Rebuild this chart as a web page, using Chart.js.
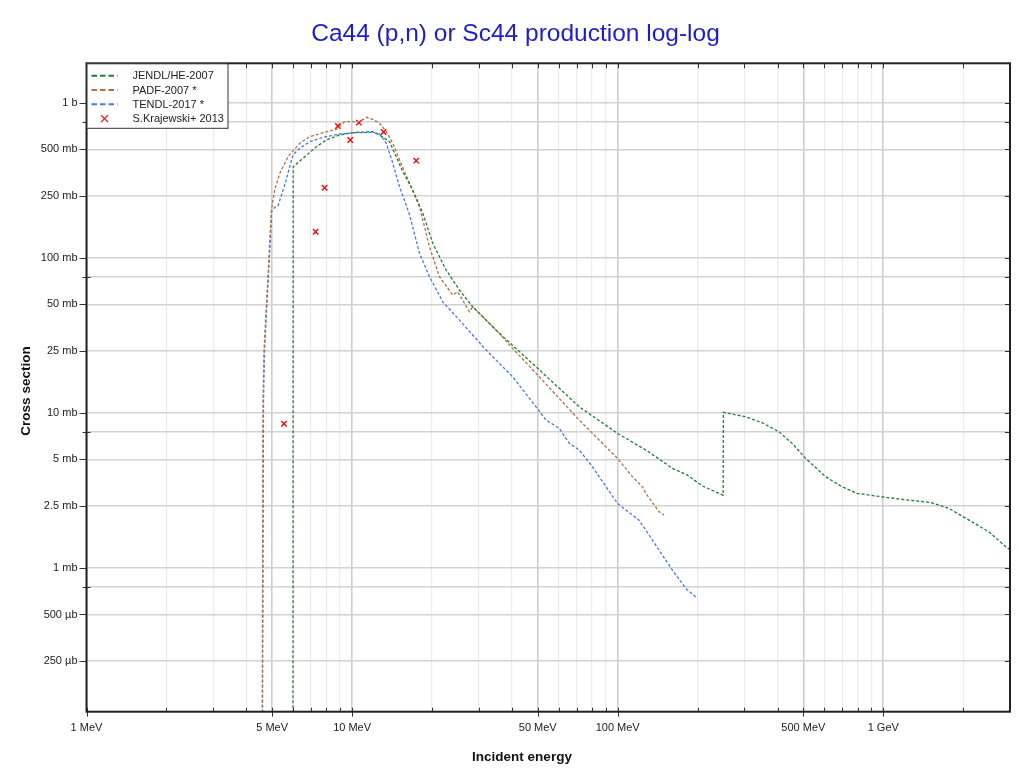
<!DOCTYPE html>
<html><head><meta charset="utf-8">
<script src="https://cdn.jsdelivr.net/npm/chart.js@4.4.0/dist/chart.umd.min.js"></script>
<style>html,body{margin:0;padding:0;background:#fff;}#wrap{width:1020px;height:773px;}</style>
</head><body>
<div id="wrap"><canvas id="c" width="1020" height="773"></canvas></div>
<script>
const chartTitle = 'Ca44 (p,n) or Sc44 production log-log';
const xTitle = 'Incident energy';
const yTitle = 'Cross section';
const seriesNames = ['JENDL/HE-2007', 'PADF-2007 *', 'TENDL-2017 *', 'S.Krajewski+ 2013'];
const seriesColors = ['#1f7f35', '#b07040', '#4678e6', '#ff0000'];

// floor value (zero cross section drawn on the axis bottom), mb
const floorXS = 0.118;

// energies in MeV, cross sections in mb
const jendlE  = [1, 5.99, 6.0, 6.53, 7.34, 8.0, 8.97, 10.37, 11.97, 12.69, 13.84, 14.66, 15.52, 16.93, 18.46, 20.13, 22.6, 25.36, 28.46, 35.86, 49.27, 71.66, 99.8, 127.6, 143.2, 160.7, 183, 208.4, 249.5, 250, 303.4, 350.3, 404.7, 454.1, 510, 606.3, 700, 797, 1019, 1247, 1504, 1763, 2157, 2493, 2920, 3000];
const jendlXS = [floorXS, floorXS, 386.5, 437.8, 520, 574.7, 618.9, 644, 650, 618.9, 560, 448, 358.7, 273.3, 193.4, 123.9, 83.3, 61.9, 48.3, 32.5, 19.8, 10.93, 7.36, 5.75, 5.03, 4.38, 3.96, 3.37, 2.94, 10.06, 9.42, 8.62, 7.54, 6.35, 5.08, 3.87, 3.33, 3.02, 2.85, 2.73, 2.64, 2.42, 1.98, 1.71, 1.35, 1.31];

const padfE  = [1, 4.59, 4.62, 4.66, 4.76, 4.83, 4.90, 4.97, 5.11, 5.34, 5.74, 6.35, 6.92, 7.77, 8.72, 9.37, 9.93, 10.67, 11.31, 11.97, 12.69, 13.45, 14.24, 15.09, 16.45, 17.94, 19.56, 21.33, 23.93, 24.99, 27.65, 28.46, 35.86, 40.22, 49.27, 71.66, 99.8, 113.6, 124, 127.6, 143.2, 149.5];
const padfXS = [floorXS, floorXS, 12.1, 25.4, 50.8, 79.3, 130.1, 203, 273, 350, 448, 547, 603, 640, 673, 754, 754, 754, 805, 781, 736, 650, 547, 427, 302, 213.3, 117.8, 75.4, 57.5, 60.3, 44.8, 48.3, 32.5, 26.0, 17.96, 8.97, 5.08, 3.87, 3.33, 3.02, 2.30, 2.19];

const tendlE  = [1, 4.6, 4.64, 4.68, 4.78, 4.85, 4.92, 4.98, 5.14, 5.26, 5.574, 5.99, 6.35, 6.92, 7.77, 8.97, 10.07, 11.97, 12.69, 13.45, 14.24, 15.09, 16.45, 17.94, 19.56, 21.95, 25.36, 31.96, 40.22, 49.27, 53.72, 60.27, 65.73, 71.66, 80.4, 99.8, 120.4, 143.2, 160.7, 180.5, 199.5];
const tendlXS = [floorXS, floorXS, 12, 25, 51, 80, 130, 200, 213, 216, 294, 460, 508, 560, 598, 628, 640, 643, 628, 547, 406, 287, 190, 106.8, 75.4, 52, 39.6, 25.4, 17.07, 10.93, 8.97, 7.93, 6.35, 5.75, 4.48, 2.60, 2.03, 1.30, 0.966, 0.736, 0.635];

const expE  = [5.54, 7.29, 7.88, 8.84, 9.84, 10.61, 13.14, 17.43];
const expXS = [8.49, 147.2, 282.9, 707.5, 574.7, 743, 647, 422.6];

const xMin = 1, xMax = 3000;
const yMin = floorXS, yMax = 1795;
const xTickValues = [1,2,3,4,5,6,7,8,9,10,20,30,40,50,60,70,80,90,100,200,300,400,500,600,700,800,900,1000,2000,3000];
const xTickLabels = {1:'1 MeV', 5:'5 MeV', 10:'10 MeV', 50:'50 MeV', 100:'100 MeV', 500:'500 MeV', 1000:'1 GeV'};
const yTickValues = [0.25,0.5,0.75,1,2.5,5,7.5,10,25,50,75,100,250,500,750,1000];
const yTickLabels = {0.25:'250 µb', 0.5:'500 µb', 1:'1 mb', 2.5:'2.5 mb', 5:'5 mb', 10:'10 mb', 25:'25 mb', 50:'50 mb', 100:'100 mb', 250:'250 mb', 500:'500 mb', 1000:'1 b'};

const FONT = '"Liberation Sans", Arial, Helvetica, sans-serif';
Chart.defaults.font.family = FONT;

const pts = (xs, ys) => xs.map((v, i) => ({x: v, y: ys[i]}));
const lineSet = (i, xs, ys) => ({
  label: seriesNames[i], data: pts(xs, ys), showLine: true,
  borderColor: seriesColors[i], backgroundColor: seriesColors[i],
  borderWidth: 1.3, borderDash: [3, 2], pointRadius: 0, tension: 0, fill: false
});

const decor = {
  id: 'decor',
  afterDraw(chart) {
    const {ctx, chartArea: a, scales: {x, y}} = chart;
    ctx.save();
    ctx.strokeStyle = '#333'; ctx.lineWidth = 1;
    ctx.beginPath();
    x.ticks.forEach(t => {
      const px = Math.round(x.getPixelForValue(t.value)) + 0.5;
      const lab = (t.value in xTickLabels);
      ctx.moveTo(px, a.bottom - 4); ctx.lineTo(px, a.bottom + (lab ? 5 : 0));
      ctx.moveTo(px, a.top); ctx.lineTo(px, a.top + 5);
    });
    y.ticks.forEach(t => {
      const py = Math.round(y.getPixelForValue(t.value)) + 0.5;
      const lab = (t.value in yTickLabels);
      ctx.moveTo(a.left - (lab ? 7 : 4), py); ctx.lineTo(a.left + (lab ? 0 : 4), py);
      ctx.moveTo(a.right, py); ctx.lineTo(a.right - 5, py);
    });
    ctx.stroke();
    // frame
    ctx.lineWidth = 2; ctx.strokeStyle = '#222';
    ctx.strokeRect(a.left, a.top, a.right - a.left, a.bottom - a.top);
    // axis titles
    ctx.fillStyle = '#111';
    ctx.font = 'bold 13.5px ' + FONT;
    ctx.textAlign = 'center'; ctx.textBaseline = 'middle';
    ctx.fillText(xTitle, 522, 757);
    ctx.translate(26, 391); ctx.rotate(-Math.PI / 2);
    ctx.fillText(yTitle, 0, 0);
    ctx.setTransform(1, 0, 0, 1, 0, 0);
    // legend
    const lx = a.left + 0.5, ly = a.top + 0.5, lw = 141, lh = 64.5;
    ctx.fillStyle = '#fff'; ctx.fillRect(lx, ly, lw, lh);
    ctx.lineWidth = 1; ctx.strokeStyle = '#333'; ctx.strokeRect(lx, ly, lw, lh);
    ctx.font = '11px ' + FONT; ctx.textAlign = 'left';
    chart.data.datasets.forEach((ds, i) => {
      const ry = a.top + 12.4 + i * 14.3;
      if (ds.showLine) {
        ctx.save();
        ctx.strokeStyle = ds.borderColor; ctx.lineWidth = 2; ctx.setLineDash([5.5, 3]);
        ctx.beginPath(); ctx.moveTo(a.left + 5, ry); ctx.lineTo(a.left + 31, ry); ctx.stroke();
        ctx.restore();
      } else {
        ctx.save();
        ctx.strokeStyle = ds.borderColor; ctx.lineWidth = 1.2;
        const cx = a.left + 18, s = 3.5;
        ctx.beginPath(); ctx.moveTo(cx - s, ry - s); ctx.lineTo(cx + s, ry + s);
        ctx.moveTo(cx - s, ry + s); ctx.lineTo(cx + s, ry - s); ctx.stroke();
        ctx.restore();
      }
      ctx.fillStyle = '#222';
      ctx.fillText(ds.label, a.left + 46, ry + 0.5);
    });
    ctx.restore();
  }
};

const majorX = new Set([1, 5, 10, 50, 100, 500, 1000]);

new Chart(document.getElementById('c'), {
  type: 'scatter',
  data: {
    datasets: [
      lineSet(0, jendlE, jendlXS),
      lineSet(1, padfE, padfXS),
      lineSet(2, tendlE, tendlXS),
      {
        label: seriesNames[3], data: pts(expE, expXS), showLine: false,
        pointStyle: 'crossRot', pointRadius: 3.8, pointBorderWidth: 1.4,
        borderColor: seriesColors[3], backgroundColor: seriesColors[3]
      }
    ]
  },
  options: {
    responsive: false, animation: false, devicePixelRatio: 1,
    layout: {padding: {left: 21, right: 10, top: 0, bottom: 0}},
    plugins: {
      legend: {display: false},
      tooltip: {enabled: false},
      title: {
        display: true, text: chartTitle, color: '#1c1cd0',
        font: {size: 24.5, weight: 'normal', family: FONT},
        padding: {top: 19.6, bottom: 14.3}
      }
    },
    scales: {
      x: {
        type: 'logarithmic', min: xMin, max: xMax,
        afterBuildTicks: s => { s.ticks = xTickValues.map(v => ({value: v})); },
        afterFit: s => { s.height = 61.3; },
        ticks: {
          autoSkip: false, maxRotation: 0, minRotation: 0, padding: 10,
          color: '#222', font: {size: 11},
          callback: v => xTickLabels[v] || ''
        },
        grid: {
          drawTicks: false,
          color: c => majorX.has(c.tick && c.tick.value) ? '#cdcdcd' : '#ececec',
          lineWidth: c => majorX.has(c.tick && c.tick.value) ? 1.6 : 1.2
        },
        border: {display: false}
      },
      y: {
        type: 'logarithmic', min: yMin, max: yMax,
        afterBuildTicks: s => { s.ticks = yTickValues.map(v => ({value: v})); },
        afterFit: s => { s.width = 65.5; },
        ticks: {
          autoSkip: false, padding: 9, color: '#222', font: {size: 11},
          callback: v => yTickLabels[v] || ''
        },
        grid: {drawTicks: false, color: '#d2d2d2', lineWidth: 1.6},
        border: {display: false}
      }
    }
  },
  plugins: [decor]
});
</script>
</body></html>
